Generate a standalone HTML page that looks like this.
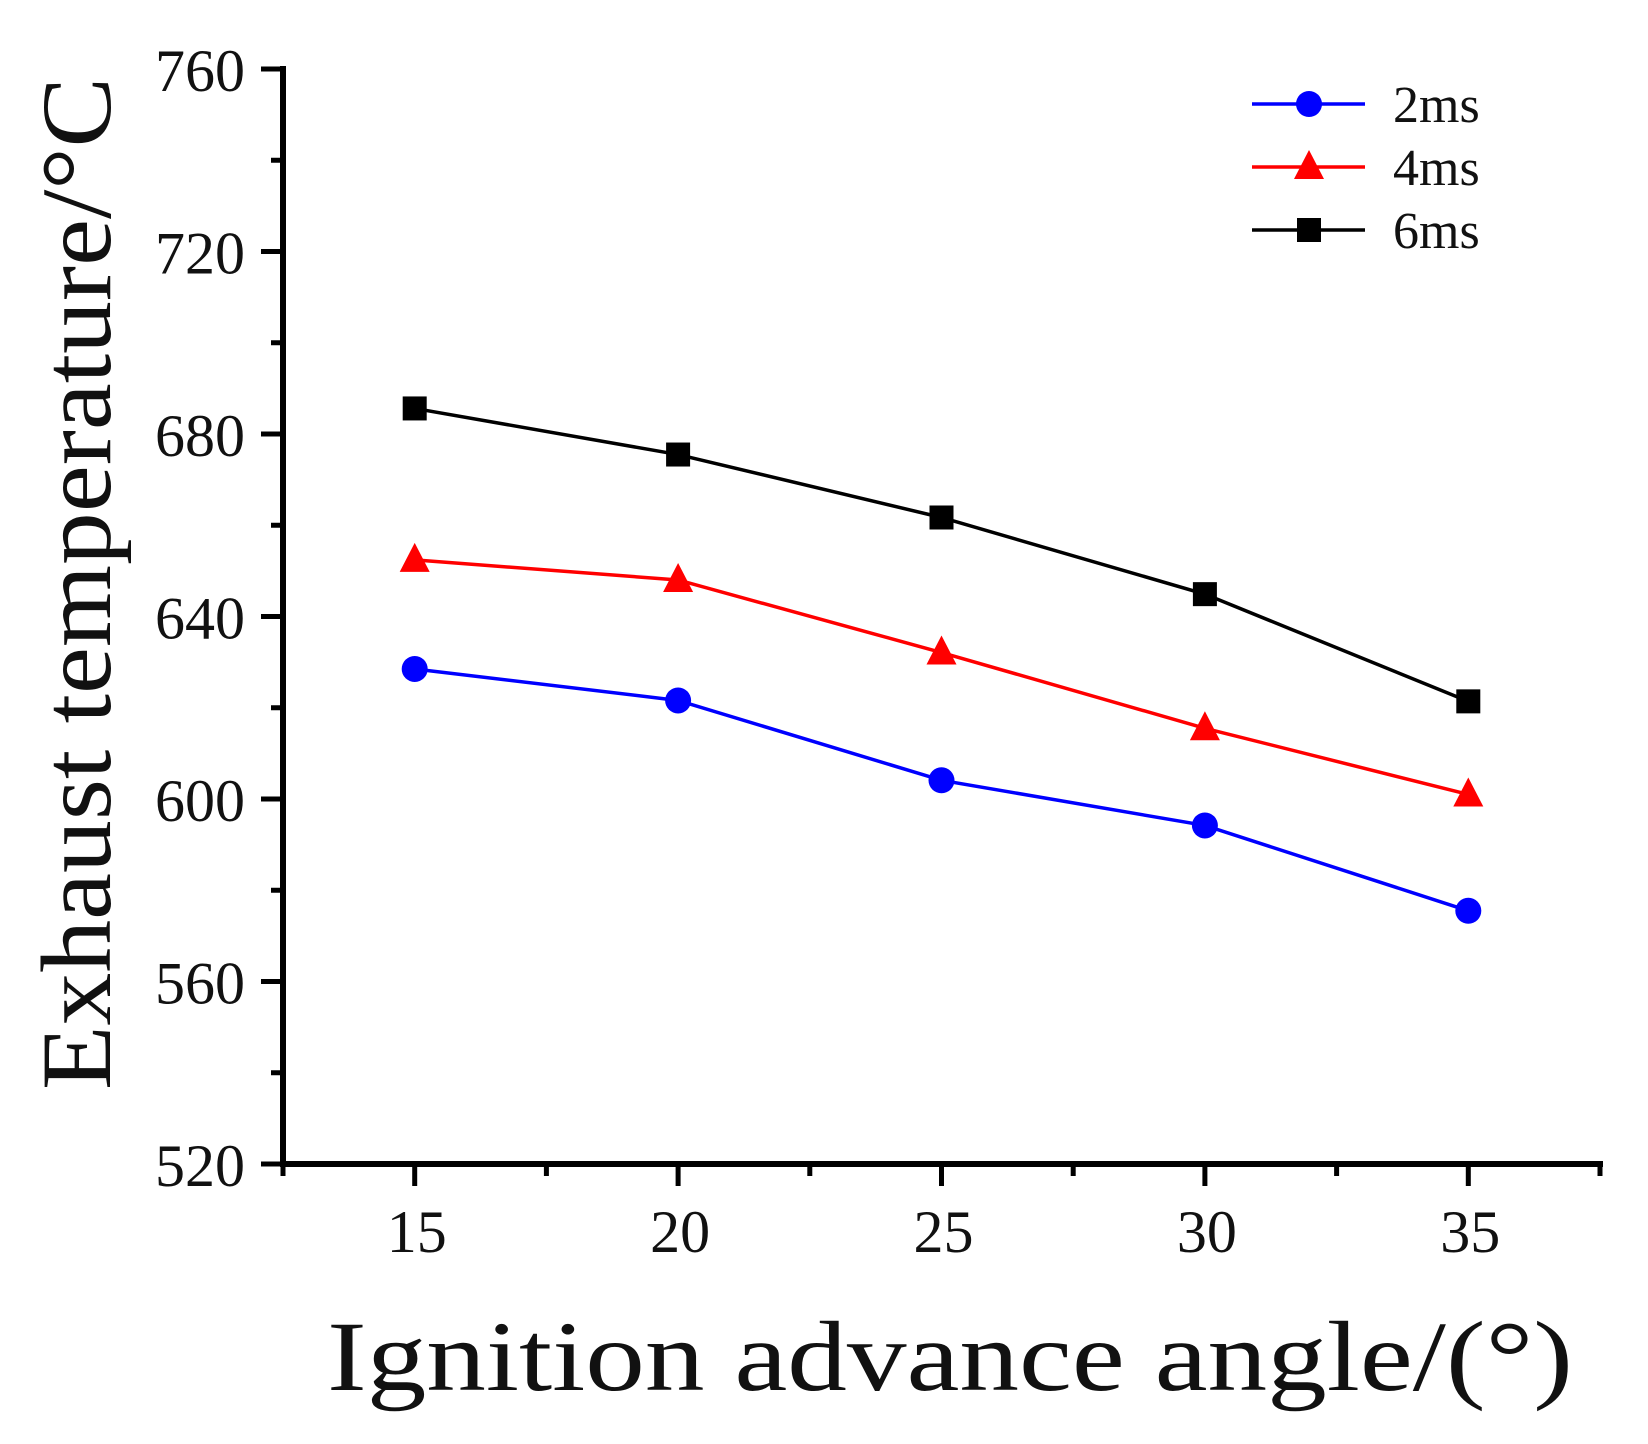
<!DOCTYPE html>
<html><head><meta charset="utf-8"><style>
html,body{margin:0;padding:0;background:#fff}
svg{display:block}
text{font-family:"Liberation Serif","Noto Serif CJK SC",serif;fill:#111}
</style></head><body>
<svg id="chart" width="1648" height="1444" viewBox="0 0 1648 1444" xmlns="http://www.w3.org/2000/svg">
<g id="axes"></g>
<g id="series"></g>
<g id="legend"></g>
<text x="327" y="1390" font-size="100" textLength="1246" lengthAdjust="spacingAndGlyphs">Ignition advance angle/(°)</text>
<text transform="translate(110,1090) rotate(-90)" x="0" y="0" font-size="100" textLength="1013" lengthAdjust="spacingAndGlyphs">Exhaust temperature/°C</text>
</svg>
<script>
const xCategories = [15, 20, 25, 30, 35];
const yTicks = [520, 560, 600, 640, 680, 720, 760];
const seriesNames = ['2ms', '4ms', '6ms'];
const values2ms = [628.5, 621.6, 604.1, 594.2, 575.5];
const values4ms = [652.4, 648.0, 632.1, 615.5, 601.0];
const values6ms = [685.6, 675.5, 661.7, 644.9, 621.4];

const NS = 'http://www.w3.org/2000/svg';
const X0 = 283, X1 = 1600, XMIN = 12.5, XMAX = 37.5;
const Y0 = 1164, Y1 = 69, YMIN = 520, YMAX = 760;
function xs(v){ return X0 + (v - XMIN) / (XMAX - XMIN) * (X1 - X0); }
function ys(v){ return Y0 - (v - YMIN) / (YMAX - YMIN) * (Y0 - Y1); }
function mk(tag, attrs, parent){
  const e = document.createElementNS(NS, tag);
  for (const k in attrs) e.setAttribute(k, attrs[k]);
  parent.appendChild(e); return e;
}
const axes = document.getElementById('axes');
let el;
el = mk('line', {x1:X0, y1:Y1-3, x2:X0, y2:Y0+3, stroke:'#000', 'stroke-width':6}, axes);


el = mk('line', {x1:X0-3, y1:Y0, x2:X1+3, y2:Y0, stroke:'#000', 'stroke-width':6}, axes);


yTicks.forEach((t, i) => {
  const y = ys(t);
  el = mk('line', {x1:X0-22, y1:y, x2:X0, y2:y, stroke:'#000', 'stroke-width':5}, axes);
  
  
  el = mk('text', {x:X0-38, y:y+22, 'font-size':60, 'text-anchor':'end'}, axes);
  el.textContent = t;
  
  
  if (i < yTicks.length - 1) {
    const ym = ys(t + 20);
    el = mk('line', {x1:X0-12, y1:ym, x2:X0, y2:ym, stroke:'#000', 'stroke-width':5}, axes);
    
    
  }
});
xCategories.forEach(c => {
  const x = xs(c);
  el = mk('line', {x1:x, y1:Y0, x2:x, y2:Y0+22, stroke:'#000', 'stroke-width':5}, axes);
  
  
  el = mk('text', {x:x+2, y:1252, 'font-size':60, 'text-anchor':'middle'}, axes);
  el.textContent = c;
  
  
});
[12.5, 17.5, 22.5, 27.5, 32.5, 37.5].forEach(c => {
  const x = xs(c);
  el = mk('line', {x1:x, y1:Y0, x2:x, y2:Y0+12, stroke:'#000', 'stroke-width':5}, axes);
  
  
});

const colors = ['#0000ff', '#ff0000', '#000000'];
const shapes = ['circle', 'triangle', 'square'];
const allValues = [values2ms, values4ms, values6ms];
function marker(shape, x, y, color, parent){
  if (shape === 'circle') return mk('circle', {cx:x, cy:y, r:13, fill:color}, parent);
  if (shape === 'square') return mk('rect', {x:x-12, y:y-12, width:24, height:24, fill:color}, parent);
  return mk('polygon', {points:`${x},${y-17} ${x-15},${y+12} ${x+15},${y+12}`, fill:color}, parent);
}
const sg = document.getElementById('series');
allValues.forEach((vals, si) => {
  const pts = vals.map((v, i) => xs(xCategories[i]) + ',' + ys(v)).join(' ');
  el = mk('polyline', {points:pts, fill:'none', stroke:colors[si], 'stroke-width':3.5}, sg);
  
  
  vals.forEach((v, i) => {
    el = marker(shapes[si], xs(xCategories[i]), ys(v), colors[si], sg);
    
    
  });
});
const lg = document.getElementById('legend');
const legendY = [104, 167, 230];
seriesNames.forEach((n, si) => {
  const y = legendY[si];
  el = mk('line', {x1:1252, y1:y, x2:1365, y2:y, stroke:colors[si], 'stroke-width':3.5}, lg);
  
  
  el = marker(shapes[si], 1309, y, colors[si], lg);
  
  
  el = mk('text', {x:1393, y:y+18, 'font-size':52}, lg);
  el.textContent = n;
  
  
});
</script>
</body></html>
